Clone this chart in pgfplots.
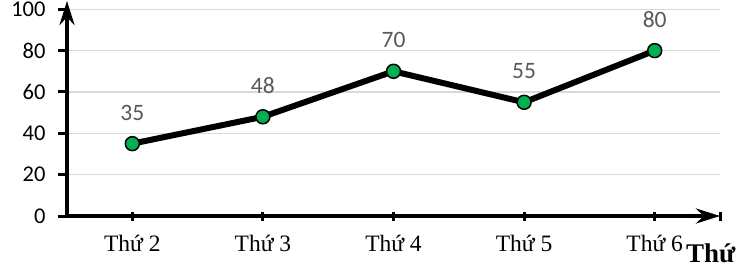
\documentclass[border=0pt]{standalone}
\usepackage{pgfplots}
\pgfplotsset{compat=1.18}
\usepackage{fontspec}
\setmainfont{Liberation Serif}
\newfontfamily\carlito{Carlito}
\usetikzlibrary{arrows.meta}
\definecolor{ptgreen}{HTML}{00B050}
\definecolor{lblgray}{HTML}{595959}
\definecolor{gridgray}{HTML}{D9D9D9}
\begin{document}
\begin{tikzpicture}
\useasboundingbox (0,0) rectangle (753pt,269pt);
\begin{axis}[
  at={(67pt,53pt)}, anchor=south west,
  scale only axis, width=653pt, height=215pt,
  xmin=0.5, xmax=5.5, ymin=0, ymax=104,
  axis x line=bottom, axis y line=left,
  axis line style={line width=4pt, -{Stealth[length=24pt,width=15pt]}},
  xtick={1,2,3,4,5},
  xticklabels={Thứ 2,Thứ 3,Thứ 4,Thứ 5,Thứ 6},
  extra x ticks={5.5}, extra x tick labels={},
  ytick={0,20,40,60,80,100},
  xtick align=center, ytick align=outside,
  major tick length=9pt,
  tick style={line width=3pt, black},
  ymajorgrids,
  grid style={line width=1.5pt, gridgray},
  /pgf/number format/assume math mode=true,
  yticklabel style={font=\carlito\fontsize{22.5}{22.5}\selectfont, black, xshift=-9pt},
  xticklabel style={font=\fontsize{23.5}{23.5}\selectfont, black, yshift=-11pt},
  xlabel={\textbf{Thứ}},
  xlabel style={at={(axis description cs:0.986,-0.172)}, anchor=center, font=\fontsize{27}{27}\selectfont},
  clip=false,
]
\addplot[line width=6pt, black, line join=round, mark=*, mark size=7pt,
  mark options={fill=ptgreen, draw=black, line width=1.5pt},
  nodes near coords,
  nodes near coords style={font=\carlito\fontsize{23.5}{23.5}\selectfont, text=lblgray, anchor=center, yshift=31pt}]
  coordinates {(1,35) (2,48) (3,70) (4,55) (5,80)};
\end{axis}
\end{tikzpicture}
\end{document}
